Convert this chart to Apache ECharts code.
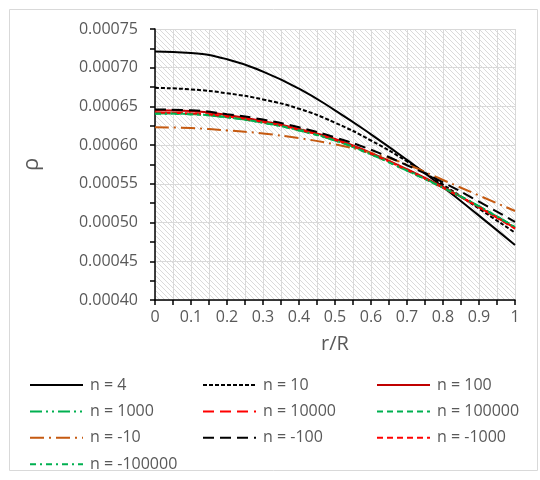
<!DOCTYPE html>
<html>
<head>
<meta charset="utf-8">
<script src="https://cdn.jsdelivr.net/npm/echarts@6/dist/echarts.min.js"></script>
<style>
  html, body { margin: 0; padding: 0; background: #fff; }
  #chart { width: 540px; height: 480px; }
</style>
</head>
<body>
<div id="chart"></div>
<script>
// radius samples r/R
const rr = [0, 0.1, 0.2, 0.3, 0.4, 0.5, 0.6, 0.7, 0.8, 0.9, 1.0];

// density, one array per n
const nP4      = [0.000721, 0.000719, 0.000711, 0.000695, 0.000673, 0.000645, 0.000614, 0.000581, 0.000546, 0.000509, 0.000471];
const nP10     = [0.000674, 0.000672, 0.000667, 0.000659, 0.000647, 0.000629, 0.000606, 0.000579, 0.000549, 0.000518, 0.000487];
const nP100    = [0.000645, 0.000644, 0.000639, 0.000631, 0.000621, 0.000608, 0.000590, 0.000569, 0.000546, 0.000520, 0.000493];
const nP1000   = [0.000641, 0.000640, 0.000636, 0.000629, 0.000620, 0.000606, 0.000589, 0.000568, 0.000545, 0.000521, 0.000494];
const nP10000  = [0.000642, 0.000641, 0.000637, 0.000630, 0.000620, 0.000607, 0.000589, 0.000568, 0.000545, 0.000520, 0.000493];
const nP100000 = [0.000641, 0.000640, 0.000636, 0.000629, 0.000619, 0.000606, 0.000588, 0.000567, 0.000545, 0.000521, 0.000494];
const nM10     = [0.000623, 0.000622, 0.000619, 0.000615, 0.000609, 0.000601, 0.000590, 0.000575, 0.000555, 0.000535, 0.000515];
const nM100    = [0.000646, 0.000645, 0.000640, 0.000633, 0.000623, 0.000610, 0.000594, 0.000574, 0.000552, 0.000527, 0.000501];
const nM1000   = [0.000642, 0.000641, 0.000637, 0.000630, 0.000620, 0.000607, 0.000589, 0.000568, 0.000545, 0.000520, 0.000492];
const nM100000 = [0.000641, 0.000640, 0.000636, 0.000629, 0.000619, 0.000606, 0.000588, 0.000567, 0.000545, 0.000521, 0.000494];

const xTicks = { min: 0, max: 1, step: 0.1 };
const yTicks = { min: 0.0004, max: 0.00075, step: 0.00005 };

const FONT = '"Open Sans", "Liberation Sans", sans-serif';
const GREY = '#595959';

// light diagonal hatch for the plot area
function hatch() {
  const c = document.createElement('canvas');
  c.width = 5; c.height = 5;
  const g = c.getContext('2d');
  g.fillStyle = '#fff';
  g.fillRect(0, 0, 5, 5);
  g.fillStyle = '#dadada';
  for (let i = 0; i < 5; i++) g.fillRect(i, i, 1, 1);
  return { image: c, repeat: 'repeat' };
}

function pts(vals) { return rr.map((r, i) => [r, vals[i]]); }

function line(name, vals, color, type, width) {
  return {
    name: name, type: 'line', smooth: true, symbol: 'none',
    data: pts(vals),
    lineStyle: { color: color, width: width || 2, type: type },
    itemStyle: { color: color }
  };
}

const series = [
  line('n = 4', nP4, '#000000', 'solid'),
  line('n = 10', nP10, '#000000', [4, 2]),
  line('n = 100', nP100, '#c00000', 'solid'),
  line('n = 1000', nP1000, '#00b050', [12, 4, 2, 4, 2, 4]),
  line('n = 10000', nP10000, '#ff0000', [11, 6]),
  line('n = 100000', nP100000, '#00b050', [6, 4]),
  line('n = -10', nM10, '#c55a11', [14, 5, 2, 5]),
  line('n = -100', nM100, '#000000', [11, 6]),
  line('n = -1000', nM1000, '#ff0000', [6, 4]),
  line('n = -100000', nM100000, '#00b050', [6, 4, 2, 4])
];

function legendCol(left, names) {
  return {
    orient: 'vertical', left: left, top: 377, height: 100, padding: 0,
    itemWidth: 53, itemHeight: 14, itemGap: 10.4,
    itemStyle: { opacity: 0 },
    data: names,
    textStyle: { color: GREY, fontSize: 16, fontFamily: FONT, padding: [0, 0, 0, 2] }
  };
}

const chart = echarts.init(document.getElementById('chart'));
chart.setOption({
  animation: false,
  backgroundColor: '#fff',
  textStyle: { fontFamily: FONT },
  graphic: [{
    type: 'rect', left: 7, top: 7, silent: true,
    shape: { width: 528, height: 461 },
    style: { fill: 'none', stroke: '#d9d9d9', lineWidth: 1 }
  }],
  grid: {
    left: 155, top: 29, width: 360, height: 271,
    show: true, borderWidth: 0, backgroundColor: hatch()
  },
  legend: [
    legendCol(29, ['n = 4', 'n = 1000', 'n = -10', 'n = -100000']),
    legendCol(202, ['n = 10', 'n = 10000', 'n = -100']),
    legendCol(376, ['n = 100', 'n = 100000', 'n = -1000'])
  ],
  xAxis: {
    type: 'value', min: xTicks.min, max: xTicks.max, interval: xTicks.step,
    name: 'r/R', nameLocation: 'middle', nameGap: 34,
    nameTextStyle: { color: GREY, fontSize: 20, fontFamily: FONT },
    axisLine: { show: true, onZero: false, lineStyle: { color: '#000', width: 1.5 } },
    axisTick: { show: true, length: 5, lineStyle: { color: '#000', width: 1.5 } },
    minorTick: { show: true, splitNumber: 2, length: 5, lineStyle: { color: '#000', width: 1.5 } },
    axisLabel: {
      color: GREY, fontSize: 16, fontFamily: FONT, margin: 9,
      formatter: v => (Math.round(v * 10) / 10).toString()
    },
    splitLine: { show: true, lineStyle: { color: '#d9d9d9', width: 1 } },
    minorSplitLine: { show: true, lineStyle: { color: '#d9d9d9', width: 1 } }
  },
  yAxis: {
    type: 'value', min: yTicks.min, max: yTicks.max, interval: yTicks.step,
    name: 'ρ', nameLocation: 'middle', nameGap: 112, nameRotate: 90,
    nameTextStyle: { color: GREY, fontSize: 22, fontFamily: FONT },
    axisLine: { show: true, onZero: false, lineStyle: { color: '#000', width: 1.5 } },
    axisTick: { show: true, length: 5, lineStyle: { color: '#000', width: 1.5 } },
    minorTick: { show: true, splitNumber: 2, length: 5, lineStyle: { color: '#000', width: 1.5 } },
    axisLabel: {
      color: GREY, fontSize: 16, fontFamily: FONT, margin: 17,
      formatter: v => v.toFixed(5)
    },
    splitLine: { show: true, lineStyle: { color: '#d9d9d9', width: 1 } }
  },
  series: series
});
</script>
</body>
</html>
